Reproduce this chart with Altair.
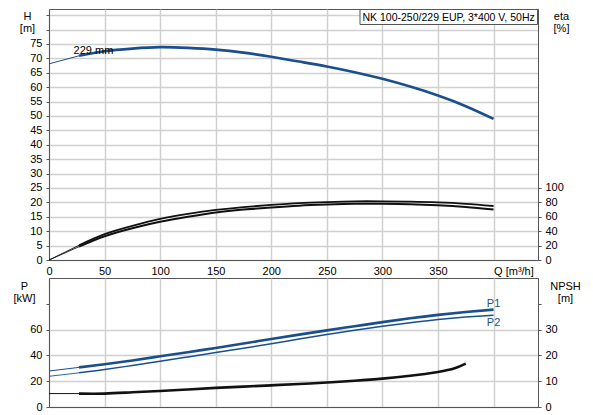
import altair as alt
import pandas as pd

# ---------------- data ----------------
Q = [0, 27, 50, 75, 100, 125, 150, 175, 200, 225, 250, 275, 300, 325, 350, 375, 400]
H = [68.1, 70.9, 72.5, 73.4, 73.9, 73.65, 73.05, 72.0, 70.55, 68.9, 67.2, 65.2, 62.9, 60.2, 57.1, 53.4, 49.0]
ETA1 = [0, 20.5, 36, 47.5, 57, 64, 69.5, 73.5, 76.5, 79, 80.5, 81.5, 81.5, 81, 80, 78, 75]
ETA2 = [0, 18.5, 33, 44, 53, 60, 66, 70, 73, 75.5, 77, 78, 78, 77.5, 76, 73.5, 70]
P1 = [27.9, 30.7, 33.1, 36.1, 39.3, 42.5, 45.8, 49.2, 52.7, 56.1, 59.4, 62.6, 65.8, 68.8, 71.4, 73.6, 75.5]
P2 = [23.8, 26.5, 29.0, 32.2, 35.4, 38.8, 42.2, 45.6, 49.1, 52.7, 56.2, 59.5, 62.6, 65.4, 67.9, 69.8, 71.2]
Q_NPSH = [0, 27, 50, 75, 100, 125, 150, 175, 200, 225, 250, 275, 300, 325, 350, 365, 375]
NPSH = [5.2, 5.2, 5.2, 5.7, 6.2, 6.8, 7.4, 7.9, 8.4, 8.9, 9.5, 10.2, 11.0, 12.1, 13.6, 15.0, 16.8]

Q_TICKS = [0, 50, 100, 150, 200, 250, 300, 350, 400]
H_TICKS = [0, 5, 10, 15, 20, 25, 30, 35, 40, 45, 50, 55, 60, 65, 70, 75, 80, 85]
ETA_TICKS = [0, 20, 40, 60, 80, 100]
P_TICKS = [0, 20, 40, 60, 80]
NPSH_TICKS = [0, 10, 20, 30, 40]

TITLE_TEXT = ["NK 100-250/229 EUP, 3*400 V, 50Hz"]
DIAM_TEXT = ["229 mm"]
DIAM_Q = [40]
DIAM_H = [72.5]
PLAB_TEXT = ["P1", "P2"]
PLAB_Q = [400, 400]
PLAB_P = [80, 65.3]

# ---------------- styling ----------------
FONT = "Arial, Liberation Sans, sans-serif"
BLUE = "#1b4f8c"
BLACK = "#111111"
AXC = "#555555"
GRID = "#d0d0d0"
SPLIT = 27
H_MAX = 87.15

xs = alt.Scale(domain=[0, 440], nice=False, zero=False)


def xenc(top):
    if top:
        ax = alt.Axis(values=Q_TICKS, grid=True, ticks=False, labelPadding=5,
                      labelExpr="datum.value == 400 ? 'Q [m\u00b3/h]' : datum.label",
                      labelAlign={"condition": {"test": "datum.value == 400", "value": "left"}, "value": "center"},
                      title=None)
    else:
        ax = alt.Axis(values=Q_TICKS, grid=True, ticks=False, labels=False, title=None)
    return alt.X("Q:Q", scale=xs, axis=ax)


H_AXIS = alt.Axis(values=H_TICKS, labelExpr="datum.value <= 75 ? datum.label : ''", grid=True,
                  tickSize=3, labelPadding=4, title=["H", "[m]"], titleAngle=0, titleAlign="center",
                  titleBaseline="top", titleX=-22, titleY=1, titleLineHeight=12)
ETA_AXIS = alt.Axis(values=ETA_TICKS, orient="right", grid=False, tickSize=3, labelPadding=4,
                    title=["eta", "[%]"], titleAngle=0, titleAlign="center", titleBaseline="top",
                    titleX=23, titleY=1, titleLineHeight=12)
P_AXIS = alt.Axis(values=P_TICKS, labelExpr="datum.value <= 60 ? datum.label : ''", grid=True,
                  gridOpacity={"condition": {"test": "datum.value > 60", "value": 0}, "value": 1},
                  tickSize=3, labelPadding=4, title=["P", "[kW]"], titleAngle=0, titleAlign="center",
                  titleBaseline="top", titleX=-25, titleY=2, titleLineHeight=12)
NPSH_AXIS = alt.Axis(values=NPSH_TICKS, orient="right", labelExpr="datum.value <= 30 ? datum.label : ''",
                     grid=False, tickSize=3, labelPadding=4, title=["NPSH", "[m]"], titleAngle=0,
                     titleAlign="center", titleBaseline="top", titleX=27, titleY=2, titleLineHeight=12)

H_SCALE = alt.Scale(domain=[0, H_MAX], nice=False, zero=True)
ETA_SCALE = alt.Scale(domain=[0, 4 * H_MAX], nice=False, zero=True)
P_SCALE = alt.Scale(domain=[0, 100], nice=False, zero=True)
NPSH_SCALE = alt.Scale(domain=[0, 50], nice=False, zero=True)


def curve(q, v, color, w_thin, w_thick, scale, axis, top):
    df = pd.DataFrame({"Q": q, "v": v})
    base = alt.Chart(df)
    y = alt.Y("v:Q", scale=scale, axis=axis)
    thin = base.transform_filter(f"datum.Q <= {SPLIT}").mark_line(
        color=color, strokeWidth=w_thin).encode(x=xenc(top), y=y)
    thick = base.transform_filter(f"datum.Q >= {SPLIT}").mark_line(
        color=color, strokeWidth=w_thick, interpolate="natural").encode(x=xenc(top), y=y)
    return [thin, thick]


# ---------------- top panel ----------------
h_layers = curve(Q, H, BLUE, 1, 2.6, H_SCALE, H_AXIS, True)
diam = alt.Chart(pd.DataFrame({"Q": DIAM_Q, "v": DIAM_H, "t": DIAM_TEXT})).mark_text(
    fontSize=11, color="#000", align="center", baseline="middle", font=FONT).encode(
    x=xenc(True), y=alt.Y("v:Q", scale=H_SCALE, axis=H_AXIS), text="t:N")
box = alt.Chart(pd.DataFrame({"t": TITLE_TEXT})).mark_rect(
    fill="white", stroke=AXC, strokeWidth=1).encode(
    x=alt.value(311), x2=alt.value(488.5), y=alt.value(0.5), y2=alt.value(15.5))
title_txt = alt.Chart(pd.DataFrame({"t": TITLE_TEXT})).mark_text(
    fontSize=10.5, color="#000", align="left", baseline="middle", font=FONT).encode(
    x=alt.value(313.5), y=alt.value(8.5), text="t:N")
h_group = alt.layer(*h_layers, diam)

eta_layers = (curve(Q, ETA1, BLACK, 0.9, 1.8, ETA_SCALE, ETA_AXIS, True)
              + curve(Q, ETA2, BLACK, 0.9, 2.0, ETA_SCALE, ETA_AXIS, True))
eta_group = alt.layer(*eta_layers)

top = alt.layer(h_group, eta_group, box, title_txt).resolve_scale(y="independent").properties(
    width=489, height=251)

# ---------------- bottom panel ----------------
p_layers = (curve(Q, P1, BLUE, 1, 2.6, P_SCALE, P_AXIS, False)
            + curve(Q, P2, BLUE, 0.9, 1.5, P_SCALE, P_AXIS, False))
plab = alt.Chart(pd.DataFrame({"Q": PLAB_Q, "v": PLAB_P, "t": PLAB_TEXT})).mark_text(
    fontSize=11, color=BLUE, align="center", baseline="middle", font=FONT).encode(
    x=xenc(False), y=alt.Y("v:Q", scale=P_SCALE, axis=P_AXIS), text="t:N")
p_group = alt.layer(*p_layers, plab)
n_group = alt.layer(*curve(Q_NPSH, NPSH, BLACK, 1, 2.6, NPSH_SCALE, NPSH_AXIS, False))

bottom = alt.layer(p_group, n_group).resolve_scale(y="independent").properties(width=489, height=129)

chart = alt.vconcat(top, bottom, spacing=18, bounds="flush").properties(
    padding={"left": 4, "top": 0, "right": 0, "bottom": 0}
).configure_view(stroke=AXC, strokeWidth=1).configure_axis(
    labelFont=FONT, titleFont=FONT, labelFontSize=11, titleFontSize=11, titleFontWeight="normal",
    labelColor="#000", titleColor="#000", domainColor=AXC, tickColor=AXC, gridColor=GRID, gridWidth=1.5
).configure_text(font=FONT)

chart.save("out.html", embed_options={"renderer": "svg", "actions": False})
